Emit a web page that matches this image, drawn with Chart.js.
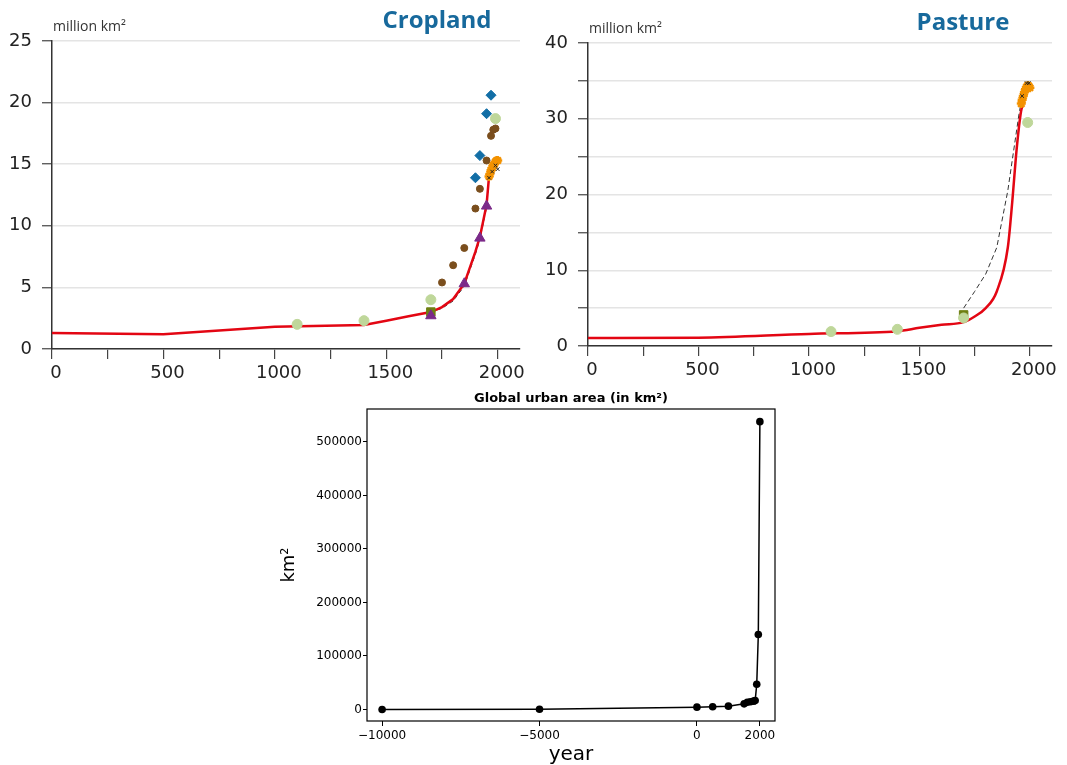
<!DOCTYPE html>
<html>
<head>
<meta charset="utf-8">
<title>Land use history</title>
<script src="https://cdn.jsdelivr.net/npm/chart.js@4.4.1/dist/chart.umd.min.js"></script>
<style>
  html, body { margin: 0; padding: 0; background: #fff; }
  body { width: 1067px; height: 765px; position: relative; overflow: hidden; }
  .panel { position: absolute; }
</style>
</head>
<body>
<div class="panel" style="left:0;top:0;width:540px;height:390px"><canvas id="cropland"></canvas></div>
<div class="panel" style="left:540px;top:0;width:527px;height:390px"><canvas id="pasture"></canvas></div>
<div class="panel" style="left:270px;top:388px;width:520px;height:377px"><canvas id="urban"></canvas></div>
<script>
// --- Cropland, million km2 ---
const cropLineYears  = [0, 500, 1000, 1400, 1500, 1600, 1700, 1750, 1800, 1850, 1900, 1920, 1950, 1961, 1970];
const cropLineValues = [1.3, 1.2, 1.8, 1.95, 2.3, 2.65, 3.0, 3.4, 4.05, 5.3, 7.9, 9.1, 11.7, 14.0, 14.3];
const cropDashYears  = [1700, 1750, 1800, 1850, 1900, 1920, 1950, 1961];
const cropDashValues = [3.0, 3.3, 3.9, 5.1, 7.7, 8.9, 11.5, 13.9];
const cropGreenYears  = [1100, 1400, 1700, 1990];
const cropGreenValues = [2.0, 2.3, 4.0, 18.7];
const cropSquareYears  = [1700];
const cropSquareValues = [3.0];
const cropTriYears  = [1700, 1850, 1920, 1950];
const cropTriValues = [2.7, 5.3, 9.0, 11.6];
const cropBrownYears  = [1750, 1800, 1850, 1900, 1920, 1950, 1970, 1980, 1990];
const cropBrownValues = [5.4, 6.8, 8.2, 11.4, 13.0, 15.3, 17.3, 17.8, 17.9];
const cropDiamondYears  = [1900, 1920, 1950, 1970];
const cropDiamondValues = [13.9, 15.7, 19.1, 20.6];
const cropStarYears  = [1961, 1965, 1970, 1975, 1980, 1985, 1990, 1995, 2000];
const cropStarValues = [14.0, 14.2, 14.5, 14.7, 14.9, 15.0, 15.2, 15.3, 15.3];
const cropCrossYears  = [1961, 1975, 1990, 2000];
const cropCrossValues = [13.9, 14.4, 14.9, 14.6];

// --- Pasture, million km2 ---
const pastLineYears  = [0, 500, 1000, 1400, 1500, 1600, 1700, 1750, 1800, 1850, 1900, 1920, 1940, 1960, 1970];
const pastLineValues = [1.05, 1.1, 1.6, 1.95, 2.4, 2.8, 3.15, 3.9, 5.0, 7.2, 13.0, 19.0, 26.0, 31.0, 32.0];
const pastDashYears  = [1700, 1750, 1800, 1850, 1900, 1950, 1965, 1980];
const pastDashValues = [5.0, 7.2, 9.5, 13.0, 20.5, 30.5, 33.0, 34.7];
const pastGreenYears  = [1100, 1400, 1700, 1990];
const pastGreenValues = [1.9, 2.2, 3.7, 29.5];
const pastSquareYears  = [1700];
const pastSquareValues = [4.1];
const pastStarYears  = [1961, 1965, 1970, 1975, 1980, 1985, 1990, 1995, 2000];
const pastStarValues = [32.0, 32.5, 33.0, 33.5, 33.9, 34.2, 34.4, 34.3, 34.1];
const pastCrossYears  = [1965, 1985, 1995];
const pastCrossValues = [33.0, 34.7, 34.7];

// --- Global urban area, km2 ---
const urbanYears = [-10000, -5000, 0, 500, 1000, 1500, 1600, 1700, 1800, 1850, 1900, 1950, 2000];
const urbanArea  = [0, 300, 4300, 5000, 6200, 10500, 13500, 14500, 15500, 16500, 47000, 140000, 538000];
const urbanXTicks = [-10000, -5000, 0, 2000];
const urbanYTicks = [0, 100000, 200000, 300000, 400000, 500000];

const pts = (xs, ys) => xs.map((x, i) => ({ x: x, y: ys[i] }));

const RED = '#e30613';
const GREEN = '#bfd79a';

// title + unit label above each land panel
const panelText = {
  id: 'panelText',
  afterDraw(chart, args, o) {
    const ctx = chart.ctx;
    ctx.save();
    ctx.textBaseline = 'alphabetic';
    ctx.textAlign = 'center';
    ctx.fillStyle = '#17699c';
    ctx.font = 'bold 24px "Open Sans"';
    ctx.fillText(o.title, o.titleX, o.titleY);
    ctx.textAlign = 'left';
    ctx.fillStyle = '#333';
    ctx.font = '14px "Open Sans"';
    ctx.fillText('million km\u00b2', chart.chartArea.left + 1, o.unitY);
    ctx.restore();
  }
};

function marker(data, style, color, radius, order) {
  return {
    data: data, showLine: false, order: order,
    pointStyle: style, pointRadius: radius,
    backgroundColor: color, borderColor: color, borderWidth: 1
  };
}

function landChart(id, cfg) {
  const tickFont = { family: 'DejaVu Sans', size: 18 };
  return new Chart(document.getElementById(id), {
    type: 'scatter',
    data: { datasets: cfg.datasets },
    plugins: [panelText],
    options: {
      animation: false,
      responsive: true,
      maintainAspectRatio: false,
      layout: { padding: { left: 0, top: cfg.padTop, right: cfg.padRight, bottom: 0 } },
      plugins: {
        legend: { display: false },
        tooltip: { enabled: false },
        panelText: cfg.text
      },
      scales: {
        x: {
          type: 'linear', min: 0, max: 2100,
          afterFit: s => { s.height = cfg.xHeight; },
          border: { display: true, color: '#333', width: 1.5 },
          grid: { drawOnChartArea: false, tickLength: 10, tickColor: '#444', lineWidth: 1.2 },
          ticks: {
            stepSize: 250, includeBounds: false, autoSkip: false, maxRotation: 0,
            padding: 4, labelOffset: 4, color: '#222', font: tickFont,
            callback: v => (v % 500 === 0 ? String(v) : '')
          }
        },
        y: {
          min: 0, max: cfg.yMax,
          afterFit: s => { s.width = cfg.yWidth; },
          border: { display: true, color: '#333', width: 1.5 },
          grid: { color: '#e4e4e4', lineWidth: 1.5, tickLength: 10, tickColor: '#444', tickWidth: 1.2 },
          ticks: {
            stepSize: 5, autoSkip: false, padding: 10, color: '#222', font: tickFont,
            callback: v => (v % cfg.labelStep === 0 ? String(v) : '')
          }
        }
      }
    }
  });
}

landChart('cropland', {
  yMax: 25, labelStep: 5, yWidth: 52, xHeight: 41, padTop: 41, padRight: 20,
  text: { title: 'Cropland', titleX: 437, titleY: 28, unitY: 31 },
  datasets: [
    { data: pts(cropDashYears, cropDashValues), showLine: true, pointRadius: 0,
      borderColor: '#333', borderWidth: 1, borderDash: [4, 3], order: 9 },
    { data: pts(cropLineYears, cropLineValues), showLine: true, pointRadius: 0,
      borderColor: RED, borderWidth: 2.5, order: 8 },
    marker(pts(cropSquareYears, cropSquareValues), 'rect', '#6e7f12', 6, 7),
    marker(pts(cropGreenYears, cropGreenValues), 'circle', GREEN, 5, 6),
    marker(pts(cropBrownYears, cropBrownValues), 'circle', '#7a4e1d', 3.5, 5),
    marker(pts(cropDiamondYears, cropDiamondValues), 'rectRot', '#126ea6', 5, 4),
    marker(pts(cropTriYears, cropTriValues), 'triangle', '#7b2a89', 6, 3),
    { data: pts(cropStarYears, cropStarValues), showLine: false, pointStyle: 'star',
      pointRadius: 4.5, borderColor: '#f39200', backgroundColor: '#f39200', borderWidth: 2.5, order: 2 },
    { data: pts(cropCrossYears, cropCrossValues), showLine: false, pointStyle: 'crossRot',
      pointRadius: 2.5, borderColor: '#222', borderWidth: 1, order: 1 }
  ]
});

landChart('pasture', {
  yMax: 40, labelStep: 10, yWidth: 48, xHeight: 44, padTop: 43, padRight: 15,
  text: { title: 'Pasture', titleX: 423, titleY: 30, unitY: 33 },
  datasets: [
    { data: pts(pastDashYears, pastDashValues), showLine: true, pointRadius: 0,
      borderColor: '#333', borderWidth: 1, borderDash: [5, 3], order: 9 },
    { data: pts(pastLineYears, pastLineValues), showLine: true, pointRadius: 0,
      borderColor: RED, borderWidth: 2.5, cubicInterpolationMode: 'monotone', order: 8 },
    marker(pts(pastSquareYears, pastSquareValues), 'rect', '#6e7f12', 6, 7),
    marker(pts(pastGreenYears, pastGreenValues), 'circle', GREEN, 5, 6),
    { data: pts(pastStarYears, pastStarValues), showLine: false, pointStyle: 'star',
      pointRadius: 4.5, borderColor: '#f39200', backgroundColor: '#f39200', borderWidth: 2.5, order: 2 },
    { data: pts(pastCrossYears, pastCrossValues), showLine: false, pointStyle: 'crossRot',
      pointRadius: 2.5, borderColor: '#222', borderWidth: 1, order: 1 }
  ]
});

// box and heading for the urban panel
const urbanFrame = {
  id: 'urbanFrame',
  afterDraw(chart) {
    const { ctx, chartArea: a } = chart;
    ctx.save();
    ctx.strokeStyle = '#000';
    ctx.lineWidth = 1.2;
    ctx.strokeRect(a.left, a.top, a.right - a.left, a.bottom - a.top);
    ctx.fillStyle = '#000';
    ctx.font = 'bold 13px "DejaVu Sans"';
    ctx.textAlign = 'center';
    ctx.textBaseline = 'alphabetic';
    ctx.fillText('Global urban area (in km\u00b2)', (a.left + a.right) / 2, a.top - 7);
    ctx.restore();
  }
};

new Chart(document.getElementById('urban'), {
  type: 'scatter',
  data: {
    datasets: [{
      data: pts(urbanYears, urbanArea), showLine: true,
      borderColor: '#000', borderWidth: 1.5,
      pointRadius: 3.8, backgroundColor: '#000', pointBorderWidth: 0
    }]
  },
  plugins: [urbanFrame],
  options: {
    animation: false,
    responsive: true,
    maintainAspectRatio: false,
    layout: { padding: { left: 0, top: 21, right: 15, bottom: 0 } },
    plugins: { legend: { display: false }, tooltip: { enabled: false } },
    scales: {
      x: {
        type: 'linear', min: -10480, max: 2480,
        afterBuildTicks: s => { s.ticks = urbanXTicks.map(v => ({ value: v })); },
        afterFit: s => { s.height = 44; },
        border: { display: false },
        grid: { drawOnChartArea: false, tickLength: 5, tickColor: '#000', lineWidth: 1 },
        ticks: {
          autoSkip: false, maxRotation: 0, padding: 3, color: '#000',
          font: { family: 'DejaVu Sans', size: 12 },
          callback: v => String(v).replace('-', '\u2212')
        },
        title: {
          display: true, text: 'year', color: '#000',
          font: { family: 'DejaVu Sans', size: 20, lineHeight: 1 }, padding: { top: 0, bottom: 0 }
        }
      },
      y: {
        min: -21600, max: 561600,
        afterBuildTicks: s => { s.ticks = urbanYTicks.map(v => ({ value: v })); },
        afterFit: s => { s.width = 97; },
        border: { display: false },
        grid: { drawOnChartArea: false, tickLength: 4, tickColor: '#000', lineWidth: 1 },
        ticks: {
          autoSkip: false, padding: 1, color: '#000',
          font: { family: 'DejaVu Sans', size: 12 },
          callback: v => String(v)
        },
        title: {
          display: true, text: 'km\u00b2', color: '#000',
          font: { family: 'DejaVu Sans', size: 18 }, padding: { top: 9, bottom: 0 }
        }
      }
    }
  }
});
</script>
</body>
</html>
